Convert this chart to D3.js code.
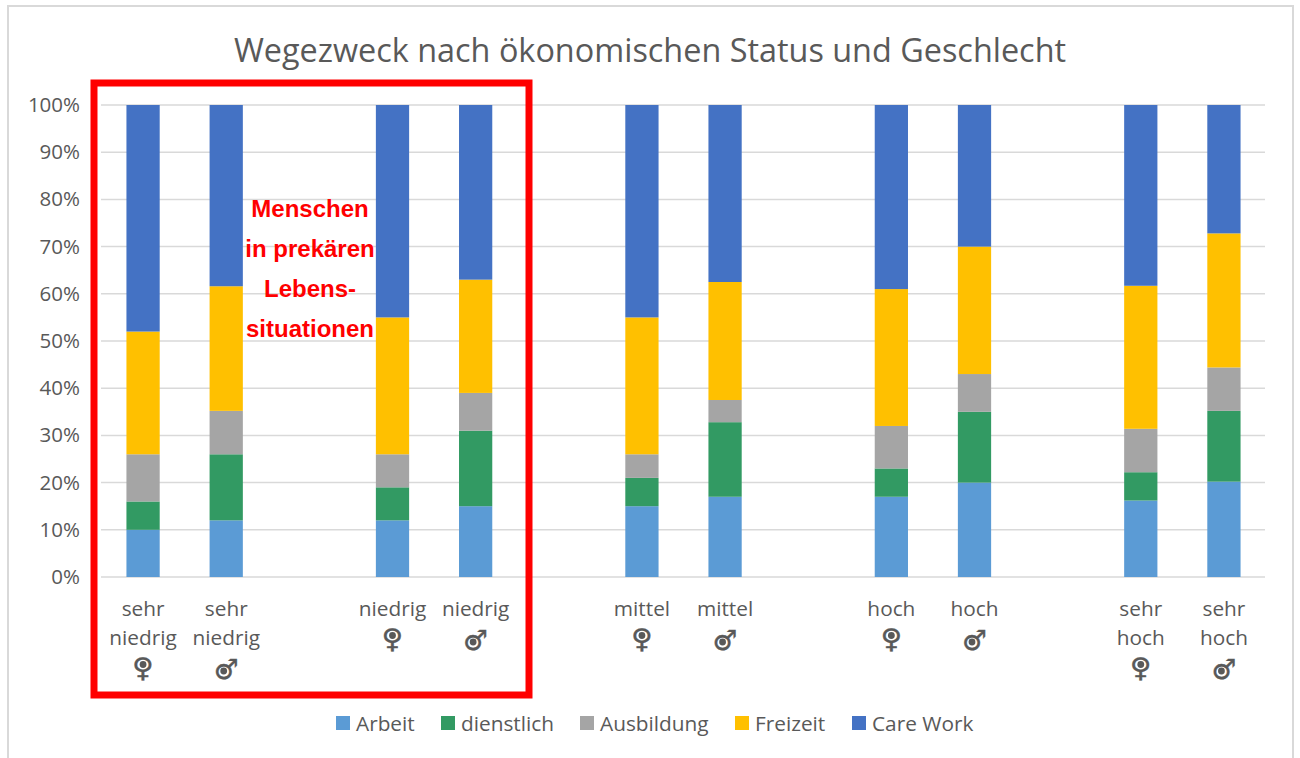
<!DOCTYPE html>
<html><head><meta charset="utf-8">
<script src="https://cdn.jsdelivr.net/npm/d3@7/dist/d3.min.js"></script>
<style>html,body{margin:0;padding:0;background:#fff;overflow:hidden}svg{display:block}text{font-family:"Open Sans",sans-serif}</style>
</head><body><svg id="c" width="1300" height="758"></svg>
<script>
const slots = ["a","b","s1","c","d","s2","e","f","s3","g","h","s4","i","j"];
const barSlots = ["a","b","c","d","e","f","g","h","i","j"];
const labels = [["sehr","niedrig"],["sehr","niedrig"],["niedrig"],["niedrig"],["mittel"],["mittel"],["hoch"],["hoch"],["sehr","hoch"],["sehr","hoch"]];
const genders = ["♀","♂","♀","♂","♀","♂","♀","♂","♀","♂"];
const seriesNames = ["Arbeit","dienstlich","Ausbildung","Freizeit","Care Work"];
const colors = ["#5b9bd5","#329a63","#a5a5a5","#ffc000","#4472c4"];
const arbeit     = [10,12,12,15,15,17,17,20,16.2,20.2];
const dienstlich = [6,14,7,16,6,15.8,6,15,6,15];
const ausbildung = [10,9.2,7,8,5,4.7,9,8,9.2,9.2];
const freizeit   = [26,26.4,29,24,29,25,29,27,30.3,28.4];
const careWork   = [48,38.4,45,37,45,37.5,39,30,38.3,27.2];
const yTicks = [0,10,20,30,40,50,60,70,80,90,100];
const title = "Wegezweck nach ökonomischen Status und Geschlecht";
const note = ["Menschen","in prekären","Lebens-","situationen"];

const svg = d3.select("#c");
const x = d3.scaleBand().domain(slots).range([101.5,1265.5]).paddingInner(0.6).paddingOuter(0.3);
const y = d3.scaleLinear().domain([0,100]).range([577,105]);
const grey = "#595959";

svg.append("rect").attr("x",8).attr("y",6).attr("width",1285).attr("height",770)
  .attr("fill","#fff").attr("stroke","#d9d9d9").attr("stroke-width",2);

svg.append("text").attr("x",650).attr("y",62).attr("text-anchor","middle")
  .attr("font-size",32.4).attr("fill",grey).text(title);

const yAxis = d3.axisLeft(y).tickValues(yTicks).tickSize(0).tickFormat(d=>d+"%").tickPadding(0);
const ga = svg.append("g").attr("transform","translate(80,0)").call(yAxis);
ga.select(".domain").remove();
ga.selectAll("text").attr("font-size",20.5).attr("fill",grey).style("font-family","'Open Sans',sans-serif");

svg.append("g").selectAll("line").data(yTicks).join("line")
  .attr("x1",101).attr("x2",1265).attr("y1",d=>y(d)).attr("y2",d=>y(d))
  .attr("stroke","#d9d9d9").attr("stroke-width",1.5);

const rows = barSlots.map((s,i)=>({slot:s,Arbeit:arbeit[i],dienstlich:dienstlich[i],Ausbildung:ausbildung[i],Freizeit:freizeit[i],"Care Work":careWork[i]}));
const stacked = d3.stack().keys(seriesNames)(rows);
svg.append("g").selectAll("g").data(stacked).join("g").attr("fill",(d,i)=>colors[i])
  .selectAll("rect").data(d=>d).join("rect")
  .attr("x",d=>x(d.data.slot)).attr("width",x.bandwidth())
  .attr("y",d=>y(d[1])).attr("height",d=>y(d[0])-y(d[1]));

const xl = svg.append("g").selectAll("g").data(barSlots).join("g")
  .attr("transform",d=>`translate(${x(d)+x.bandwidth()/2},0)`);
xl.each(function(s,i){
  const g = d3.select(this);
  labels[i].forEach((t,j)=>g.append("text").attr("y",616+j*29).attr("text-anchor","middle")
    .attr("font-size",20.8).attr("fill",grey).text(t));
  const gy = 616+labels[i].length*29;
  const fem = genders[i]==="♀";
  g.append("text").attr("transform",`translate(0,${gy+(fem?3:5)}) scale(1,${fem?0.9:1})`).attr("text-anchor","middle")
    .attr("font-size",fem?30:28).style("font-family","'DejaVu Sans'")
    .attr("fill",grey).attr("stroke",grey).attr("stroke-width",0.3)
    .text(genders[i]);
  g.append("circle").attr("cx",fem?0:-2.5).attr("cy",gy+(fem?-9.5:-3)).attr("r",3.4).attr("fill",grey);
});

svg.append("rect").attr("x",94).attr("y",83).attr("width",435).attr("height",612)
  .attr("fill","none").attr("stroke","#ff0000").attr("stroke-width",7);

svg.append("g").selectAll("text").data(note).join("text")
  .attr("x",310).attr("y",(d,i)=>217+i*40).attr("text-anchor","middle")
  .attr("font-size",24).attr("font-weight","bold").attr("fill","#ff0000")
  .style("font-family","'Liberation Sans'").text(d=>d);

const legendX = [336,441,580,735,852];
const lg = svg.append("g").selectAll("g").data(seriesNames).join("g")
  .attr("transform",(d,i)=>`translate(${legendX[i]},716)`);
lg.append("rect").attr("width",14).attr("height",14).attr("fill",(d,i)=>colors[i]);
lg.append("text").attr("x",20).attr("y",15).attr("font-size",20.8).attr("fill",grey).text(d=>d);
</script></body></html>
